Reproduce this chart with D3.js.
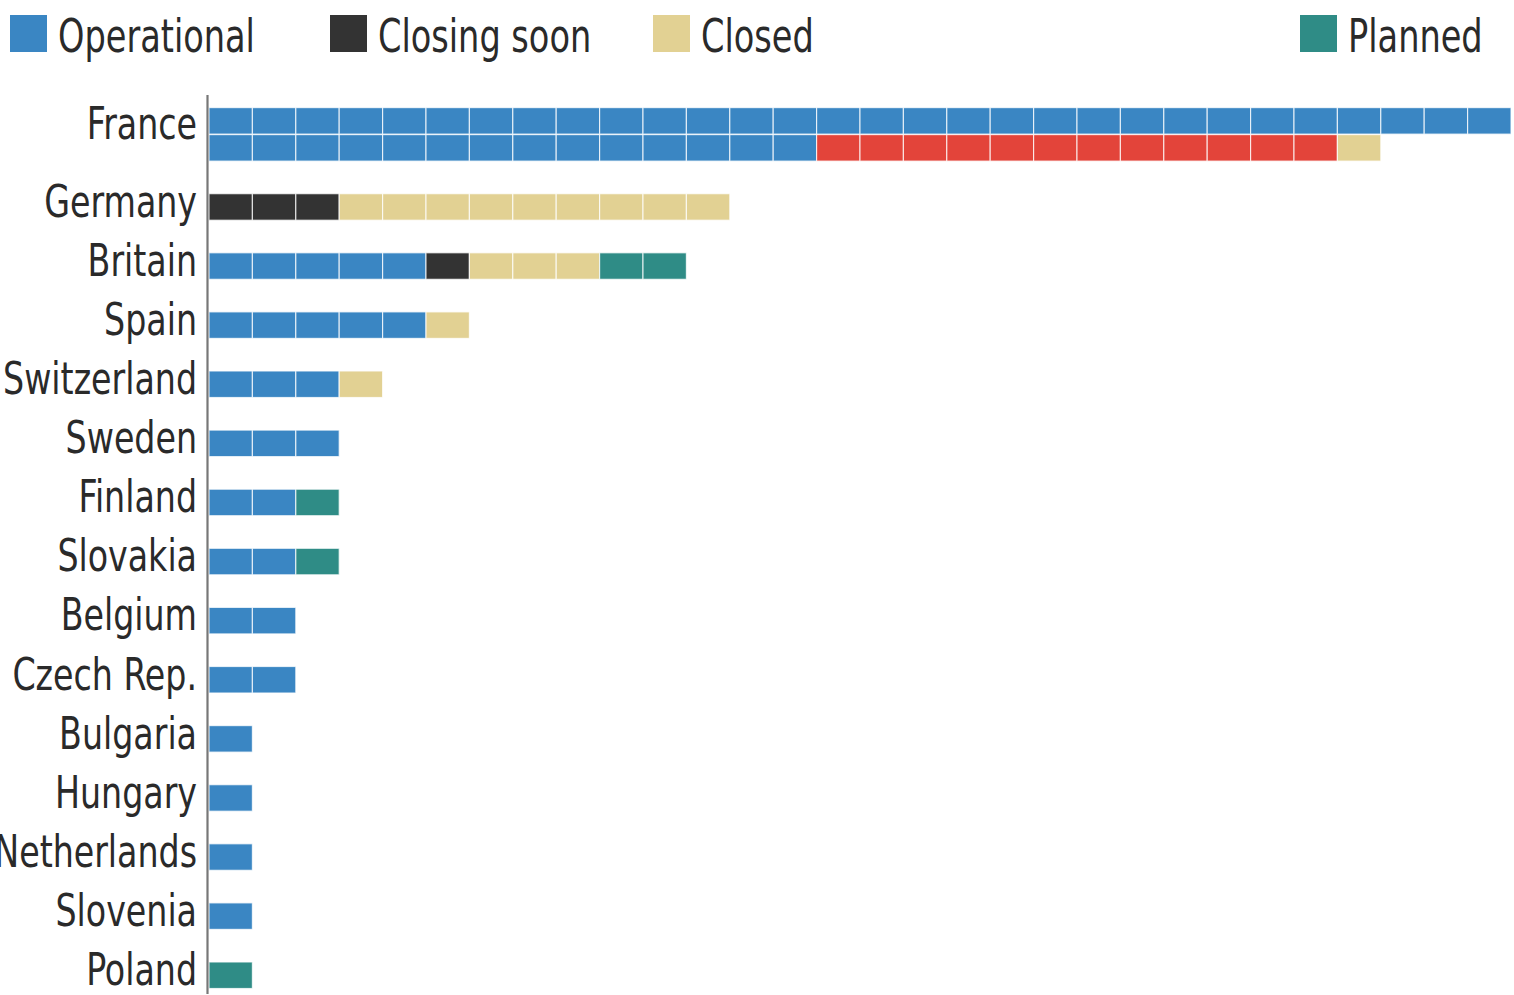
<!DOCTYPE html>
<html><head><meta charset="utf-8">
<script src="https://cdn.jsdelivr.net/npm/d3@7"></script>
<style>
html,body{margin:0;padding:0;background:#fff;}
svg{display:block;}
text{font-family:"DejaVu Sans Condensed","Liberation Sans Narrow","DejaVu Sans",sans-serif;font-stretch:condensed;fill:#2a2a2a;}
</style></head>
<body>
<svg id="chart" width="1514" height="995"></svg>
<script>
const countries = ["France","Germany","Britain","Spain","Switzerland","Sweden","Finland","Slovakia","Belgium","Czech Rep.","Bulgaria","Hungary","Netherlands","Slovenia","Poland"];
const operational = [44,0,5,5,3,3,2,2,2,2,1,1,1,1,0];
const toClose     = [12,0,0,0,0,0,0,0,0,0,0,0,0,0,0];
const closingSoon = [0,3,1,0,0,0,0,0,0,0,0,0,0,0,0];
const closed      = [1,9,3,1,1,0,0,0,0,0,0,0,0,0,0];
const planned     = [0,0,2,0,0,0,1,1,0,0,0,0,0,0,1];
const seriesKeys  = ["operational","toClose","closingSoon","closed","planned"];
const seriesData  = {operational, toClose, closingSoon, closed, planned};
const legendItems = [
  {key:"operational", label:"Operational"},
  {key:"closingSoon", label:"Closing soon"},
  {key:"closed", label:"Closed"},
  {key:"planned", label:"Planned"}
];
const perRow = 30;

const color = d3.scaleOrdinal()
  .domain(seriesKeys)
  .range(["#3a86c3","#e3443a","#333333","#e2d193","#2f8c86"]);

const svg = d3.select("#chart");

const rows = countries.map((c, ci) => {
  const units = [];
  seriesKeys.forEach(k => { for (let j = 0; j < seriesData[k][ci]; j++) units.push(k); });
  return {country: c, units, nRows: Math.max(1, Math.ceil(units.length / perRow))};
});

const rowStep = 27, gap = 32.1;
let cursor = 0;
rows.forEach(r => { r.top = cursor; cursor += r.nRows * rowStep + gap; });

const x = d3.scaleLinear().domain([0, perRow]).range([209, 1511]);
const y = d3.scaleLinear().domain([0, 1]).range([107.6, 108.6]);
const cellW = x(1) - x(0);

function fitFactor(sample, size, target) {
  const t = svg.append("text").attr("font-size", size).text(sample);
  const w = t.node().getComputedTextLength();
  t.remove();
  return target / w;
}
const labelSize = 44, legendSize = 47;
const kLabel = fitFactor("Switzerland", labelSize, 194);
const kLegend = fitFactor("Operational", legendSize, 197);

const g = svg.append("g");
rows.forEach(r => {
  const grp = g.append("g");
  grp.selectAll("rect").data(r.units).join("rect")
    .attr("x", (d, i) => x(i % perRow))
    .attr("y", (d, i) => y(r.top + Math.floor(i / perRow) * rowStep))
    .attr("width", cellW)
    .attr("height", rowStep - 0.5)
    .attr("fill", d => color(d))
    .attr("stroke", "rgba(255,255,255,0.75)")
    .attr("stroke-width", 1.2);
  g.append("text")
    .attr("transform", `translate(197,${y(r.top) + (r.nRows > 1 ? 31 : 23)}) scale(${kLabel},1)`)
    .attr("text-anchor", "end")
    .attr("font-size", labelSize)
    .text(r.country);
});

svg.append("line")
  .attr("x1", 207.5).attr("x2", 207.5)
  .attr("y1", 95).attr("y2", 994)
  .attr("stroke", "#777").attr("stroke-width", 2.2);

const legendX = [10, 330, 653, 1300];
const lg = svg.append("g");
legendItems.forEach((it, i) => {
  lg.append("rect").attr("x", legendX[i]).attr("y", 15).attr("width", 37).attr("height", 37)
    .attr("fill", color(it.key));
  lg.append("text")
    .attr("transform", `translate(${legendX[i] + 48},52) scale(${kLegend},1)`)
    .attr("font-size", legendSize).text(it.label);
});
</script>
</body></html>
